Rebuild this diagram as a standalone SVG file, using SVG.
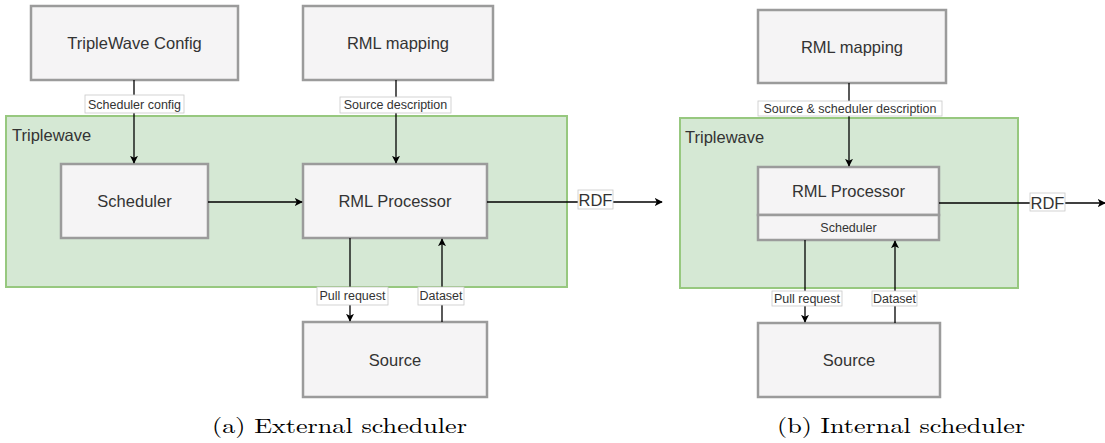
<svg xmlns="http://www.w3.org/2000/svg" width="1105" height="443" viewBox="0 0 1105 443">
<defs>
<style>
.box{fill:#f5f4f5;stroke:#9b9b9b;stroke-width:2.5}
.grp{fill:#d5e8d4;stroke:#97c87f;stroke-width:2}
.t{font-family:"Liberation Sans",Arial,sans-serif;fill:#333;text-anchor:middle;dominant-baseline:central}
.big{font-size:16.5px}
.sm{font-size:12.5px}
.grpt{font-family:"Liberation Sans",Arial,sans-serif;fill:#333;font-size:16.5px}
.edge{stroke:#000;stroke-width:1.3;fill:none}
.lbl{fill:#fff;stroke:#c8c8c8;stroke-width:0.8}
.cap{font-family:"Latin Modern Roman","Liberation Serif","Times New Roman",serif;font-size:21px;fill:#000}
</style>
<marker id="arr" viewBox="0 0 10 10" refX="9" refY="5" markerWidth="8" markerHeight="8" markerUnits="userSpaceOnUse" orient="auto">
<path d="M0,0 L10,5 L0,10 L2.5,5 Z" fill="#000"/>
</marker>
</defs>

<g id="triplewave-a">
<rect class="grp" x="6" y="116" width="561" height="171"/>
<text class="grpt" x="12" y="141">Triplewave</text>
</g>
<g id="triplewave-b">
<rect class="grp" x="680" y="118" width="338" height="170"/>
<text class="grpt" x="685" y="143">Triplewave</text>
</g>

<g id="tw-config">
<rect class="box" x="31" y="6" width="207" height="74"/>
<text class="t big" x="134.5" y="43">TripleWave Config</text>
</g>
<g id="rml-mapping-a">
<rect class="box" x="303" y="6" width="190" height="74"/>
<text class="t big" x="398" y="43">RML mapping</text>
</g>
<g id="scheduler-a">
<rect class="box" x="61" y="164" width="147" height="74"/>
<text class="t big" x="134.5" y="201">Scheduler</text>
</g>
<g id="rml-processor-a">
<rect class="box" x="303" y="164" width="184" height="74"/>
<text class="t big" x="395" y="201">RML Processor</text>
</g>
<g id="source-a">
<rect class="box" x="303" y="322" width="184" height="75"/>
<text class="t big" x="395" y="359.5">Source</text>
</g>

<g id="rml-mapping-b">
<rect class="box" x="758" y="10" width="188" height="73"/>
<text class="t big" x="852" y="46.5">RML mapping</text>
</g>
<g id="rml-processor-b">
<rect class="box" x="758" y="167" width="181" height="48"/>
<text class="t big" x="848.5" y="191">RML Processor</text>
</g>
<g id="scheduler-b">
<rect class="box" x="758" y="215" width="181" height="25"/>
<text class="t sm" x="848.5" y="227.5">Scheduler</text>
</g>
<g id="source-b">
<rect class="box" x="758" y="323" width="182" height="74"/>
<text class="t big" x="849" y="360">Source</text>
</g>

<g id="connectors">
<path class="edge" d="M134,80 V163" marker-end="url(#arr)"/>
<path class="edge" d="M396,80 V163" marker-end="url(#arr)"/>
<path class="edge" d="M208,202 H302" marker-end="url(#arr)"/>
<path class="edge" d="M350,238 V321" marker-end="url(#arr)"/>
<path class="edge" d="M442,322 V239" marker-end="url(#arr)"/>
<path class="edge" d="M487,202 H662" marker-end="url(#arr)"/>
<path class="edge" d="M849,83 V166" marker-end="url(#arr)"/>
<path class="edge" d="M805,240 V322" marker-end="url(#arr)"/>
<path class="edge" d="M895,323 V241" marker-end="url(#arr)"/>
<path class="edge" d="M939,203 H1105" marker-end="url(#arr)"/>

<rect class="lbl" x="85" y="95" width="99" height="18"/>
<text class="t sm" x="134.5" y="104.5">Scheduler config</text>
<rect class="lbl" x="340" y="97" width="111" height="16"/>
<text class="t sm" x="395.5" y="105">Source description</text>
<rect class="lbl" x="317" y="287" width="71" height="18"/>
<text class="t sm" x="352.5" y="296">Pull request</text>
<rect class="lbl" x="418" y="287" width="46" height="18"/>
<text class="t sm" x="441" y="296">Dataset</text>
<rect class="lbl" x="578" y="190" width="35" height="19"/>
<text class="t big" x="595.5" y="200">RDF</text>

<rect class="lbl" x="758" y="101" width="184" height="15"/>
<text class="t sm" x="850" y="108.5">Source &amp; scheduler description</text>
<rect class="lbl" x="772" y="291" width="70" height="15"/>
<text class="t sm" x="807" y="298.5">Pull request</text>
<rect class="lbl" x="872" y="291" width="45" height="15"/>
<text class="t sm" x="894.5" y="298.5">Dataset</text>
<rect class="lbl" x="1030" y="193" width="35" height="18"/>
<text class="t big" x="1047.5" y="202.5">RDF</text>
</g>

<text class="cap" x="212" y="433" textLength="255" lengthAdjust="spacingAndGlyphs">(a) External scheduler</text>
<text class="cap" x="777" y="433" textLength="248" lengthAdjust="spacingAndGlyphs">(b) Internal scheduler</text>
</svg>
